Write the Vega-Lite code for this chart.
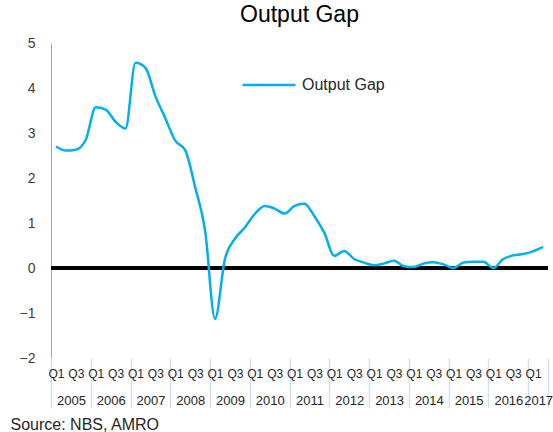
{
  "$schema": "https://vega.github.io/schema/vega-lite/v6.json",
  "autosize": {"type": "none"},
  "width": 497,
  "height": 315,
  "padding": {"left": 51, "top": 43, "right": 5, "bottom": 74},
  "background": "white",
  "config": {"font": "Liberation Sans", "view": {"stroke": null}},
  "title": {"text": "Output Gap", "fontSize": 23, "fontWeight": "normal", "color": "#000000", "anchor": "middle", "offset": 9},
  "data": {"values": [
    {"q": "2005Q1", "i": 0, "v": 2.70}, {"q": "2005Q2", "i": 1, "v": 2.61}, {"q": "2005Q3", "i": 2, "v": 2.63}, {"q": "2005Q4", "i": 3, "v": 2.85},
    {"q": "2006Q1", "i": 4, "v": 3.57}, {"q": "2006Q2", "i": 5, "v": 3.52}, {"q": "2006Q3", "i": 6, "v": 3.25}, {"q": "2006Q4", "i": 7, "v": 3.10},
    {"q": "2007Q1", "i": 8, "v": 4.56}, {"q": "2007Q2", "i": 9, "v": 4.45}, {"q": "2007Q3", "i": 10, "v": 3.82}, {"q": "2007Q4", "i": 11, "v": 3.33},
    {"q": "2008Q1", "i": 12, "v": 2.83}, {"q": "2008Q2", "i": 13, "v": 2.62}, {"q": "2008Q3", "i": 14, "v": 1.80}, {"q": "2008Q4", "i": 15, "v": 0.84},
    {"q": "2009Q1", "i": 16, "v": -1.13}, {"q": "2009Q2", "i": 17, "v": 0.20}, {"q": "2009Q3", "i": 18, "v": 0.65}, {"q": "2009Q4", "i": 19, "v": 0.90},
    {"q": "2010Q1", "i": 20, "v": 1.20}, {"q": "2010Q2", "i": 21, "v": 1.38}, {"q": "2010Q3", "i": 22, "v": 1.32}, {"q": "2010Q4", "i": 23, "v": 1.21},
    {"q": "2011Q1", "i": 24, "v": 1.38}, {"q": "2011Q2", "i": 25, "v": 1.43}, {"q": "2011Q3", "i": 26, "v": 1.15}, {"q": "2011Q4", "i": 27, "v": 0.78},
    {"q": "2012Q1", "i": 28, "v": 0.27}, {"q": "2012Q2", "i": 29, "v": 0.38}, {"q": "2012Q3", "i": 30, "v": 0.20}, {"q": "2012Q4", "i": 31, "v": 0.12},
    {"q": "2013Q1", "i": 32, "v": 0.06}, {"q": "2013Q2", "i": 33, "v": 0.10}, {"q": "2013Q3", "i": 34, "v": 0.16}, {"q": "2013Q4", "i": 35, "v": 0.04},
    {"q": "2014Q1", "i": 36, "v": 0.02}, {"q": "2014Q2", "i": 37, "v": 0.10}, {"q": "2014Q3", "i": 38, "v": 0.13}, {"q": "2014Q4", "i": 39, "v": 0.08},
    {"q": "2015Q1", "i": 40, "v": 0.00}, {"q": "2015Q2", "i": 41, "v": 0.12}, {"q": "2015Q3", "i": 42, "v": 0.14}, {"q": "2015Q4", "i": 43, "v": 0.14},
    {"q": "2016Q1", "i": 44, "v": 0.00}, {"q": "2016Q2", "i": 45, "v": 0.20}, {"q": "2016Q3", "i": 46, "v": 0.28}, {"q": "2016Q4", "i": 47, "v": 0.31},
    {"q": "2017Q1", "i": 48, "v": 0.37}, {"q": "2017Q2", "i": 49, "v": 0.47}
  ]},
  "resolve": {"axis": {"x": "independent"}},
  "layer": [
    {
      "mark": {"type": "rule", "color": "#000000", "strokeWidth": 2.5},
      "encoding": {
        "x": {"datum": -0.5, "type": "quantitative",
          "scale": {"domain": [-0.5, 49.5], "nice": false, "zero": false},
          "axis": {
            "orient": "bottom",
            "values": [-0.5, 3.5, 7.5, 11.5, 15.5, 19.5, 23.5, 27.5, 31.5, 35.5, 39.5, 43.5, 47.5, 49.5],
            "labelExpr": "datum.value < 49 ? '' + (2005 + (datum.value + 0.5) / 4) : ''",
            "labelOffset": {"condition": {"test": "datum.value > 47", "value": 10}, "value": 20},
            "labelFontSize": 13, "labelColor": "#262626", "labelPadding": -14,
            "ticks": true, "tickSize": 50, "tickColor": "#d3e0f0", "tickWidth": 1.5,
            "domain": false, "grid": false, "labelFlush": false, "labelOverlap": false,
            "title": "Source: NBS, AMRO", "titleFontSize": 16, "titleFontWeight": "normal", "titleColor": "#262626",
            "titleAnchor": "start", "titleAlign": "left", "titleBaseline": "alphabetic", "titleX": -41, "titleY": 71
          }
        },
        "x2": {"datum": 49.5},
        "y": {"datum": 0, "type": "quantitative"}
      }
    },
    {
      "mark": {"type": "line", "strokeWidth": 2.5, "interpolate": "monotone"},
      "encoding": {
        "x": {"field": "i", "type": "quantitative",
          "scale": {"domain": [-0.5, 49.5], "nice": false, "zero": false},
          "axis": {
            "orient": "bottom",
            "values": [0, 2, 4, 6, 8, 10, 12, 14, 16, 18, 20, 22, 24, 26, 28, 30, 32, 34, 36, 38, 40, 42, 44, 46, 48],
            "labelExpr": "datum.value % 4 == 0 ? 'Q1' : 'Q3'",
            "ticks": false, "domain": false, "grid": false, "labelPadding": 10,
            "labelFontSize": 12, "labelColor": "#262626", "labelFlush": false, "labelOverlap": false, "title": null
          }
        },
        "y": {"field": "v", "type": "quantitative",
          "scale": {"domain": [-2, 5], "nice": false, "zero": false},
          "axis": {"values": [-2, -1, 0, 1, 2, 3, 4, 5], "ticks": false, "grid": false, "domainColor": "#a6a6a6",
            "labelPadding": 16, "labelFontSize": 14, "labelColor": "#404040", "title": null}
        },
        "color": {"datum": "Output Gap", "type": "nominal",
          "scale": {"range": ["#00b0f0"]},
          "legend": {"orient": "none", "legendX": 190, "legendY": 14, "title": null, "symbolType": "stroke",
            "symbolSize": 2809, "symbolStrokeWidth": 2.5, "labelFontSize": 16, "labelColor": "#262626", "labelOffset": 5, "padding": 0}
        }
      }
    }
  ]
}
